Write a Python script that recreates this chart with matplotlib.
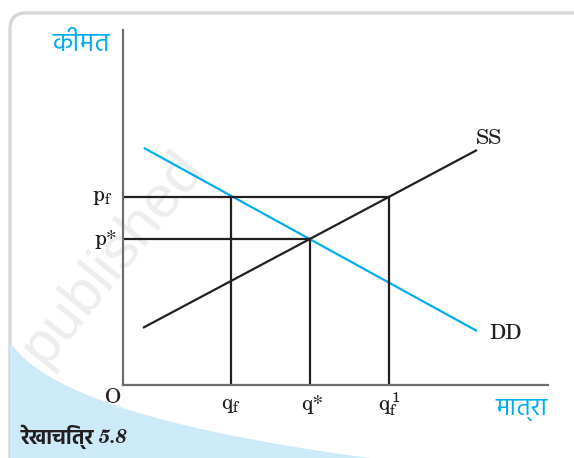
import matplotlib
matplotlib.use("Agg")
import matplotlib.pyplot as plt
from matplotlib import font_manager
from matplotlib.patches import FancyBboxPatch, PathPatch
from matplotlib.path import Path

# price floor diagram, quantity and price on a 0-100 scale
ss_q = [4.7, 83.3]
ss_p = [16.1, 66.2]
dd_q = [4.9, 83.3]
dd_p = [66.8, 15.2]
p_floor = 53.0
p_star = 41.0
q_f = 25.3
q_star = 44.0
q_f1 = 62.5

names = set(f.name for f in font_manager.fontManager.ttflist)


def pick(options, default):
    for n in options:
        if n in names:
            return n
    return default


deva = pick(["Hind", "Noto Sans Devanagari", "Mukta", "Anek Devanagari"], "DejaVu Sans")
serif = pick(["C059", "TeX Gyre Schola", "Century Schoolbook L", "Liberation Serif"], "DejaVu Serif")

plt.rcParams["mathtext.fontset"] = "custom"
plt.rcParams["mathtext.rm"] = serif
plt.rcParams["mathtext.it"] = serif + ":italic"

black = "#231f20"
blue = "#00aeef"
axis_grey = "#6d6e71"

fig = plt.figure(figsize=(5.74, 4.58), dpi=100)

# background: frame, watermark, blue corner (pixel coordinates)
bg = fig.add_axes([0, 0, 1, 1], zorder=0)
bg.set_xlim(0, 574)
bg.set_ylim(458, 0)
bg.axis("off")

frame = FancyBboxPatch((10, 13), 600, 480, boxstyle="round,pad=0,rounding_size=16",
                       facecolor="white", edgecolor="#d6d6d6", lw=2.4, zorder=1)
bg.add_patch(frame)
bg.text(112, 258, "published", rotation=51, fontsize=43, color="#ededed",
        family="Liberation Sans", ha="center", va="center", zorder=2)
corner = Path([(10, 342), (60, 420), (400, 462), (400, 480), (10, 480), (10, 342)],
              [Path.MOVETO, Path.CURVE3, Path.CURVE3, Path.LINETO, Path.LINETO, Path.CLOSEPOLY])
blue_patch = PathPatch(corner, facecolor="#cdeaf9", edgecolor="none", zorder=3)
bg.add_patch(blue_patch)
blue_patch.set_clip_path(frame)

bg.text(21, 437, "रेखाचित्र", fontsize=15, fontweight="bold", family=deva,
        color=black, ha="left", va="center", zorder=4)
bg.text(99, 438, "5.8", fontsize=14, fontweight="bold", style="italic",
        family=serif, color=black, ha="left", va="center", zorder=4)

# chart
ax = fig.add_axes([123 / 574, 1 - 385 / 458, 425 / 574, 355 / 458], zorder=1)
ax.set_facecolor("none")
ax.set_xlim(0, 100)
ax.set_ylim(0, 100)
for s in ["top", "right"]:
    ax.spines[s].set_visible(False)
for s in ["left", "bottom"]:
    ax.spines[s].set_color(axis_grey)
    ax.spines[s].set_linewidth(1.6)
ax.set_xticks([])
ax.set_yticks([])

lw = 1.6
ax.plot(ss_q, ss_p, color=black, lw=lw, solid_capstyle="butt")
ax.plot(dd_q, dd_p, color=blue, lw=lw, solid_capstyle="butt")
ax.plot([0, q_f1], [p_floor, p_floor], color=black, lw=lw)
ax.plot([0, q_star], [p_star, p_star], color=black, lw=lw)
ax.plot([q_f, q_f], [0, p_floor], color=black, lw=lw)
ax.plot([q_star, q_star], [0, p_star], color=black, lw=lw)
ax.plot([q_f1, q_f1], [0, p_floor], color=black, lw=lw)

fs = 15
ax.text(-2.5, p_floor, r"$\mathrm{p_f}$", fontsize=fs, ha="right", va="center", color=black)
ax.text(-1.5, p_star, "p*", fontsize=fs, family=serif, ha="right", va="center", color=black)
ax.text(-2.5, -3.5, "O", fontsize=fs, family=serif, ha="center", va="center", color=black)
ax.text(q_f, -5.5, r"$\mathrm{q_f}$", fontsize=fs, ha="center", va="center", color=black)
ax.text(q_star + 0.6, -5.5, "q*", fontsize=fs, family=serif, ha="center", va="center", color=black)
ax.text(q_f1 + 0.3, -5.5, r"$\mathrm{q_f^{\,1}}$", fontsize=fs, ha="center", va="center", color=black)
ax.text(ss_q[1] - 0.3, ss_p[1] + 3.2, "SS", fontsize=fs, family=serif, ha="left", va="center", color=black)
ax.text(dd_q[1] + 3.0, dd_p[1] - 0.8, "DD", fontsize=fs, family=serif, ha="left", va="center", color=black)

ax.text(-3, 96, "कीमत", fontsize=19, family=deva, color=blue, ha="right", va="center")
ax.text(100, -7, "मात्रा", fontsize=18, family=deva, color=blue, ha="right", va="center")

plt.savefig("out.png", dpi=100)
